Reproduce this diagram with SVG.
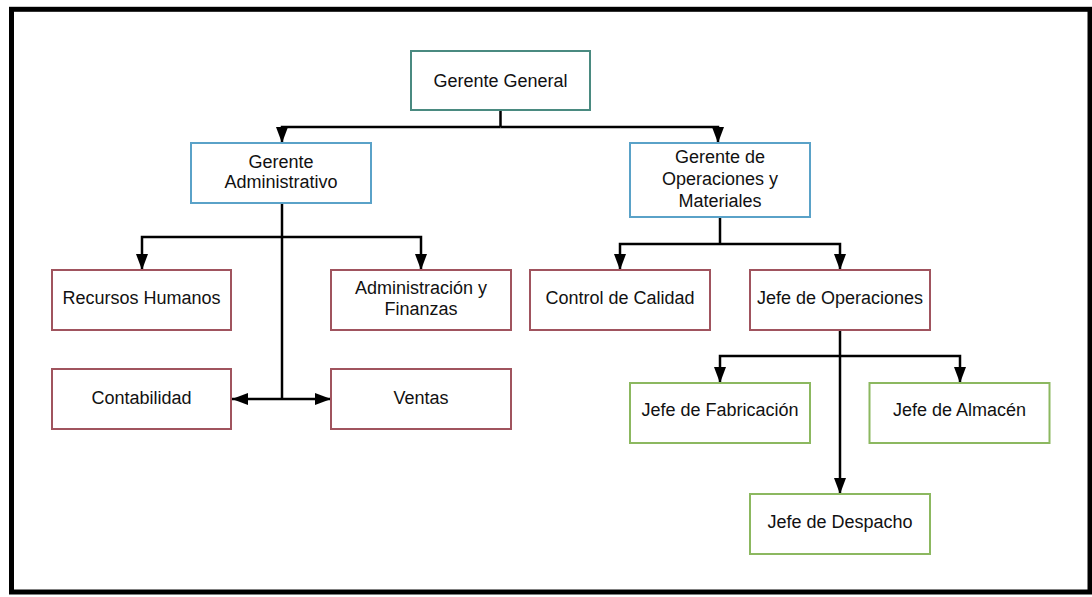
<svg xmlns="http://www.w3.org/2000/svg" width="1092" height="597" viewBox="0 0 1092 597">
<defs>
<marker id="arr" viewBox="0 0 16 12" markerUnits="userSpaceOnUse" markerWidth="16" markerHeight="12" refX="16" refY="6" orient="auto">
<path d="M0,0 L16,6 L0,12 z" fill="#000"/>
</marker>
<style>
.box{fill:#fff;stroke-width:2}
.teal{stroke:#4a8a80}
.blue{stroke:#5aa2c8}
.red{stroke:#a0545e}
.green{stroke:#8cb860}
.t{font-family:"Liberation Sans",Arial,sans-serif;font-size:18px;fill:#111;text-anchor:middle}
.c{fill:none;stroke:#000;stroke-width:2.5}
.ca{fill:none;stroke:#000;stroke-width:2.5;marker-end:url(#arr)}
</style>
</defs>
<rect x="0" y="0" width="1092" height="597" fill="#fff"/>
<rect x="11.5" y="9.3" width="1078.5" height="582.7" fill="none" stroke="#000" stroke-width="5"/>
<g id="connectors">
<path class="c" d="M500.5,110 V127"/>
<path class="ca" d="M500.5,127 H282 V143"/>
<path class="ca" d="M500.5,127 H718 V143"/>
<path class="c" d="M282,203 V399"/>
<path class="ca" d="M282,237 H142 V270"/>
<path class="ca" d="M282,237 H421 V270"/>
<path class="ca" d="M282,399 H232"/>
<path class="ca" d="M282,399 H331"/>
<path class="c" d="M720,217 V244"/>
<path class="ca" d="M720,244 H620 V270"/>
<path class="ca" d="M720,244 H840 V270"/>
<path class="ca" d="M840,330 V494"/>
<path class="ca" d="M840,356 H720 V383"/>
<path class="ca" d="M840,356 H960 V383"/>
</g>
<g id="gerente-general"><rect class="box teal" x="411" y="51" width="179" height="59"/><text class="t" x="500.5" y="86.5">Gerente General</text></g>
<g id="gerente-administrativo"><rect class="box blue" x="191" y="143" width="180" height="60"/><text class="t" x="281" y="168">Gerente</text><text class="t" x="281" y="188">Administrativo</text></g>
<g id="gerente-operaciones"><rect class="box blue" x="630" y="143" width="180" height="74"/><text class="t" x="720" y="163">Gerente de</text><text class="t" x="720" y="185">Operaciones y</text><text class="t" x="720" y="207">Materiales</text></g>
<g id="recursos-humanos"><rect class="box red" x="52" y="270" width="179" height="60"/><text class="t" x="141.5" y="304">Recursos Humanos</text></g>
<g id="administracion-finanzas"><rect class="box red" x="331" y="270" width="180" height="60"/><text class="t" x="421" y="294">Administración y</text><text class="t" x="421" y="315">Finanzas</text></g>
<g id="control-calidad"><rect class="box red" x="530" y="270" width="180" height="60"/><text class="t" x="620" y="304">Control de Calidad</text></g>
<g id="jefe-operaciones"><rect class="box red" x="750" y="270" width="180" height="60"/><text class="t" x="840" y="304">Jefe de Operaciones</text></g>
<g id="contabilidad"><rect class="box red" x="52" y="369" width="179" height="60"/><text class="t" x="141.5" y="404">Contabilidad</text></g>
<g id="ventas"><rect class="box red" x="331" y="369" width="180" height="60"/><text class="t" x="421" y="404">Ventas</text></g>
<g id="jefe-fabricacion"><rect class="box green" x="630" y="383" width="180" height="60"/><text class="t" x="720" y="416">Jefe de Fabricación</text></g>
<g id="jefe-almacen"><rect class="box green" x="869.5" y="383" width="180" height="60"/><text class="t" x="959.5" y="416">Jefe de Almacén</text></g>
<g id="jefe-despacho"><rect class="box green" x="750" y="494" width="180" height="60"/><text class="t" x="840" y="528">Jefe de Despacho</text></g>
</svg>
